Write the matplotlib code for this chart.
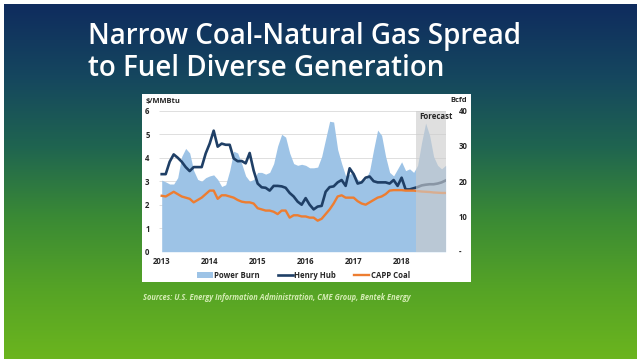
import matplotlib.pyplot as plt
import matplotlib.transforms as mtransforms
from matplotlib.colors import LinearSegmentedColormap
from matplotlib.patches import Rectangle, Patch
from matplotlib.lines import Line2D
import numpy as np

# ----------------------------- date (lunar, ian 2013 - dec 2018) -----------------------------
ani = ["2013", "2014", "2015", "2016", "2017", "2018"]

# Power Burn, Bcfd (axa dreapta)
power_burn = [
    20.3, 19.8, 19.2, 19.2, 21.0, 27.0, 29.3, 28.0, 23.0, 20.5, 20.0, 21.0,   # 2013
    21.5, 21.8, 20.5, 18.5, 19.0, 23.0, 28.5, 28.0, 25.0, 21.5, 20.0, 20.5,   # 2014
    22.5, 22.5, 22.0, 22.5, 25.0, 30.0, 33.3, 32.5, 28.0, 25.0, 24.5, 24.8,   # 2015
    24.5, 23.8, 23.8, 24.0, 27.0, 32.0, 37.0, 36.8, 29.0, 25.0, 21.5, 22.0,   # 2016
    22.5, 20.5, 20.0, 20.5, 23.0, 29.0, 34.5, 33.0, 27.0, 22.5, 21.5, 23.5,   # 2017
    25.5, 23.0, 23.5, 22.5, 24.5, 31.0, 36.5, 33.0, 27.0, 24.5, 23.5, 24.5,   # 2018
]

# Henry Hub, $/MMBtu
henry_hub = [
    3.30, 3.30, 3.83, 4.14, 4.00, 3.83, 3.60, 3.43, 3.60, 3.60, 3.60, 4.18,
    4.60, 5.15, 4.47, 4.60, 4.55, 4.55, 3.97, 3.85, 3.86, 3.76, 4.20, 3.45,
    2.90, 2.74, 2.72, 2.60, 2.80, 2.80, 2.78, 2.72, 2.50, 2.35, 2.13, 2.00,
    2.28, 2.00, 1.80, 1.92, 1.95, 2.55, 2.75, 2.78, 2.95, 3.05, 2.80, 3.55,
    3.30, 2.90, 2.95, 3.15, 3.20, 3.00, 2.95, 2.95, 2.95, 2.90, 3.05, 2.80,
    3.15, 2.65, 2.65, 2.70, 2.75, 2.82, 2.85, 2.87, 2.87, 2.90, 2.95, 3.03,
]

# CAPP Coal, $/MMBtu
capp_coal = [
    2.38, 2.35, 2.45, 2.55, 2.45, 2.35, 2.30, 2.25, 2.10, 2.20, 2.30, 2.45,
    2.60, 2.60, 2.25, 2.40, 2.40, 2.35, 2.30, 2.20, 2.13, 2.10, 2.10, 2.05,
    1.85, 1.80, 1.75, 1.75, 1.70, 1.60, 1.75, 1.75, 1.45, 1.55, 1.55, 1.50,
    1.50, 1.45, 1.45, 1.32, 1.40, 1.60, 1.80, 2.05, 2.35, 2.40, 2.30, 2.30,
    2.30, 2.15, 2.05, 2.00, 2.10, 2.20, 2.30, 2.35, 2.45, 2.60, 2.62, 2.62,
    2.62, 2.60, 2.60, 2.60, 2.58, 2.56, 2.55, 2.54, 2.52, 2.51, 2.50, 2.50,
]

ticks_stanga = [0, 1, 2, 3, 4, 5, 6]
ticks_dreapta = [0, 10, 20, 30, 40]
etichete_dreapta = ["-", "10", "20", "30", "40"]
start_prognoza = 63.7

TITLE_FONT = "Open Sans"
FONT = "Open Sans"
TEXT_COL = "#262626"

luni = np.arange(len(power_burn))

fig = plt.figure(figsize=(6.4, 3.61), dpi=100)
fig.patch.set_facecolor("white")

# ----------------------------- fundal (gradient albastru -> verde) -----------------------------
bg = fig.add_axes([0, 0, 1, 1])
bg.set_xlim(0, 640)
bg.set_ylim(361, 0)
bg.axis("off")
cmap = LinearSegmentedColormap.from_list(
    "slide", ["#0f2c5e", "#15465f", "#1f6450", "#3a8a35", "#55a326", "#6bb51e"])
grad = np.linspace(0, 1, 256).reshape(-1, 1)
bg.imshow(grad, cmap=cmap, aspect="auto", extent=(4, 637, 359, 4), zorder=0)
bg.add_patch(Rectangle((142, 94), 329, 188, facecolor="white", edgecolor="none", zorder=1))

fig.text(88 / 640, 1 - 44 / 361, "Narrow Coal-Natural Gas Spread", color="white",
         fontsize=20.0, family=TITLE_FONT, weight="semibold", ha="left", va="baseline")
fig.text(88 / 640, 1 - 76 / 361, "to Fuel Diverse Generation", color="white",
         fontsize=20.0, family=TITLE_FONT, weight="semibold", ha="left", va="baseline")
fig.text(143 / 640, 1 - 297 / 361,
         "Sources: U.S. Energy Information Administration, CME Group, Bentek Energy",
         color="#d4ecb4", fontsize=5.45, family=FONT, style="italic", weight="bold",
         ha="left", va="center")

# ----------------------------- graficul -----------------------------
rect = [159.3 / 640, 1 - 251.7 / 361, (446 - 159.3) / 640, (251.7 - 110.7) / 361]
ax_pb = fig.add_axes(rect)
ax_pb.patch.set_visible(False)
ax_px = ax_pb.twinx()

# aria Power Burn pe axa din spate
ax_pb.fill_between(luni, power_burn, 0, color="#9dc3e6", linewidth=0, zorder=2)
ax_pb.set_ylim(0, 40)
ax_pb.set_xlim(-0.6, 71.1)
ax_pb.yaxis.tick_right()
ax_pb.set_yticks(ticks_dreapta)
ax_pb.set_yticklabels(etichete_dreapta)

# liniile de grid (in unitatile axei de pret)
trans = mtransforms.blended_transform_factory(ax_pb.transAxes, ax_px.transData)
ax_pb.hlines(ticks_stanga[1:], 0, 1, transform=trans, color="#d9d9d9", linewidth=0.6, zorder=1)

# liniile de pret
ax_px.plot(luni, henry_hub, color="#1f3f66", linewidth=1.9, zorder=3, solid_joinstyle="round")
ax_px.plot(luni, capp_coal, color="#ed7d31", linewidth=1.7, zorder=3, solid_joinstyle="round")
ax_px.set_ylim(0, 6)
ax_px.yaxis.tick_left()
ax_px.set_yticks(ticks_stanga)
ax_px.axvspan(start_prognoza, 71.1, color="#cccccc", alpha=0.62, linewidth=0, zorder=5)

for a in (ax_pb, ax_px):
    for s in a.spines.values():
        s.set_visible(False)
    a.tick_params(length=0, labelsize=5.6, labelcolor=TEXT_COL)
    for lbl in a.get_yticklabels() + a.get_xticklabels():
        lbl.set_family(FONT)
        lbl.set_weight("bold")

ax_pb.set_xticks([12 * i for i in range(len(ani))])
ax_pb.set_xticklabels(ani)
ax_pb.tick_params(axis="x", pad=4)
ax_pb.tick_params(axis="y", pad=9)
ax_px.tick_params(axis="y", pad=7)

fig.text(146 / 640, 1 - 101 / 361, "$/MMBtu", fontsize=5.4, family=FONT, weight="bold",
         color=TEXT_COL, ha="left", va="center")
fig.text(467 / 640, 1 - 101 / 361, "Bcfd", fontsize=5.4, family=FONT, weight="bold",
         color=TEXT_COL, ha="right", va="center")
fig.text(436 / 640, 1 - 116.5 / 361, "Forecast", fontsize=5.6, family=FONT, weight="bold",
         color=TEXT_COL, ha="center", va="center")

handles = [Patch(facecolor="#9dc3e6", edgecolor="none"),
           Line2D([], [], color="#1f3f66", linewidth=1.9),
           Line2D([], [], color="#ed7d31", linewidth=1.7)]
leg = fig.legend(handles, ["Power Burn", "Henry Hub", "CAPP Coal"], ncol=3,
                 loc="center", bbox_to_anchor=(303.5 / 640, 1 - 275 / 361), frameon=False,
                 prop={"family": FONT, "size": 5.6, "weight": "bold"},
                 handlelength=2.0, handleheight=0.8, handletextpad=0.15, columnspacing=2.3)
for t in leg.get_texts():
    t.set_color(TEXT_COL)

fig.savefig("out.png", dpi=100)
